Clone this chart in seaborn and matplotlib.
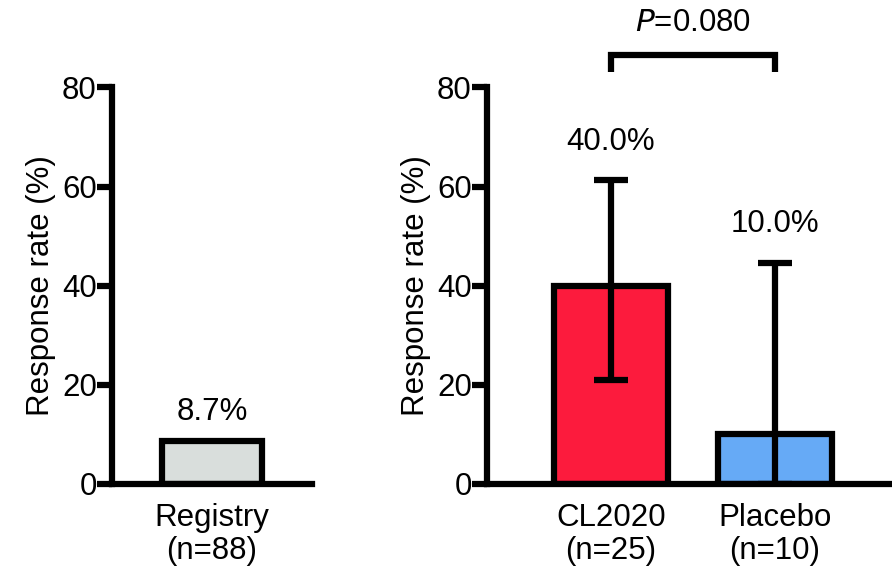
import matplotlib
matplotlib.use("Agg")
import matplotlib.pyplot as plt
import seaborn as sns
import pandas as pd

# Data
reg_groups = ["Registry\n(n=88)"]
reg_rates = [8.7]
reg_labels = ["8.7%"]

trial_groups = ["CL2020\n(n=25)", "Placebo\n(n=10)"]
trial_rates = [40.0, 10.0]
trial_labels = ["40.0%", "10.0%"]
trial_err_low = [21.0, 0.0]
trial_err_high = [61.3, 44.5]
p_text = "=0.080"

yticks = [0, 20, 40, 60, 80]

sns.set_theme(style="ticks")
plt.rcParams['font.family'] = ['Liberation Sans', 'DejaVu Sans']
for k in ["text.color", "axes.labelcolor", "xtick.color", "ytick.color",
          "axes.edgecolor"]:
    plt.rcParams[k] = "black"

LW = 4.5
FS = 22.5
FSY = 22.5

fig = plt.figure(figsize=(8.92, 5.74), dpi=100)
ax1 = fig.add_axes([0.1256, 0.1568, 0.224, 0.691])
ax2 = fig.add_axes([0.546, 0.1568, 0.454, 0.691])

df1 = pd.DataFrame({"group": reg_groups, "rate": reg_rates})
sns.barplot(data=df1, x="group", y="rate", ax=ax1, color="#D9DEDC",
            width=1.0, edgecolor="black", linewidth=LW, saturation=1)
ax1.set_xlim(-1, 1)

df2 = pd.DataFrame({"group": trial_groups, "rate": trial_rates})
sns.barplot(data=df2, x="group", y="rate", ax=ax2, hue="group",
            palette=["#FC1B3D", "#66AAF6"], legend=False,
            width=0.7, edgecolor="black", linewidth=LW, saturation=1)
ax2.set_xlim(-0.756, 1.714)

# error bars
for i, (lo, hi, v) in enumerate(zip(trial_err_low, trial_err_high, trial_rates)):
    ax2.errorbar([i], [v], yerr=[[v - lo], [hi - v]], fmt="none",
                 ecolor="black", elinewidth=LW, capsize=12, capthick=LW,
                 zorder=5)

for ax, lp in ((ax1, 4), (ax2, 4)):
    ax.set_ylim(0, 80)
    ax.set_yticks(yticks)
    ax.set_ylabel("Response rate (%)", fontsize=FSY, labelpad=lp)
    ax.set_xlabel("")
    sns.despine(ax=ax)
    ax.spines["left"].set_linewidth(LW)
    ax.spines["bottom"].set_linewidth(LW)
    ax.tick_params(axis="y", length=11, width=LW, labelsize=FS, pad=0)
    ax.tick_params(axis="x", length=0, labelsize=FS, pad=14)
    for lab in ax.get_xticklabels():
        lab.set_linespacing(1.1)

# value labels
ax1.text(0, 14.6, reg_labels[0], ha="center", va="center", fontsize=FS)
label_y = [69.0, 52.5]
for i, t in enumerate(trial_labels):
    ax2.text(i, label_y[i], t, ha="center", va="center", fontsize=FS)

# bracket
ax2.plot([0, 0, 1, 1], [83.0, 86.6, 86.6, 83.0], color="black", lw=LW,
         clip_on=False, solid_joinstyle="miter", solid_capstyle="butt")
ax2.text(0.5, 93.0, r"$P$" + p_text, ha="center", va="center", fontsize=FS,
         clip_on=False)

fig.savefig("out.png", dpi=100)
